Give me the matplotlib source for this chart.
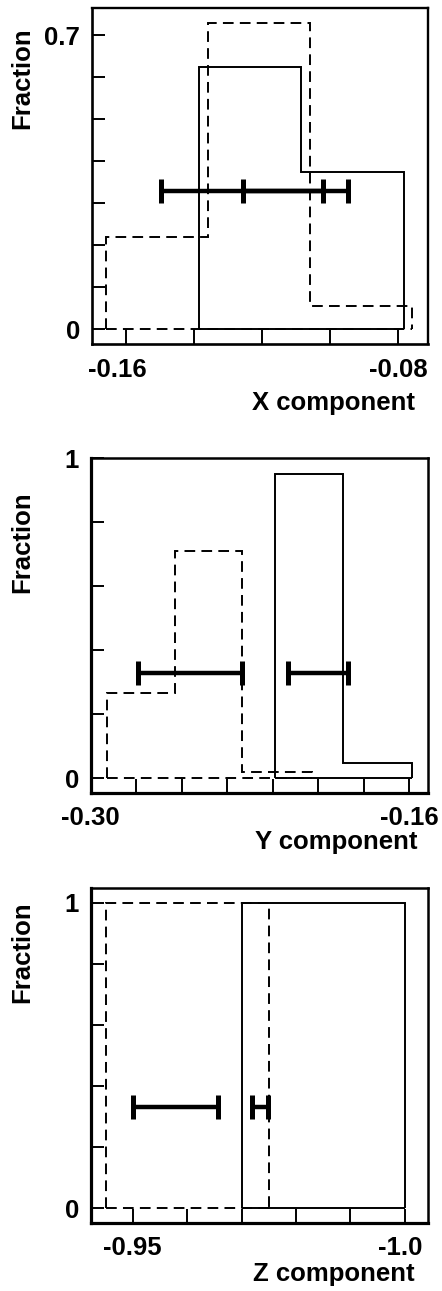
import matplotlib
matplotlib.use("Agg")
import matplotlib.pyplot as plt
from matplotlib.transforms import ScaledTranslation

plt.rcParams['font.family'] = ['Liberation Sans', 'DejaVu Sans']
plt.rcParams['font.weight'] = 'bold'
plt.rcParams['axes.labelweight'] = 'bold'
plt.rcParams['font.size'] = 18.5

# X component
x_edges_solid = [-0.1385, -0.1085, -0.0784]
x_frac_solid = [0.625, 0.375]
x_edges_dashed = [-0.1657, -0.1358, -0.1059, -0.0758]
x_frac_dashed = [0.218, 0.728, 0.055]
x_bars = [(-0.1497, -0.1022), (-0.1255, -0.0948)]
x_bar_y = 0.329
x_xticks = [-0.16, -0.14, -0.12, -0.10, -0.08]
x_xticklabels = ['-0.16', '', '', '', '-0.08']
x_yticks = [0, 0.1, 0.2, 0.3, 0.4, 0.5, 0.6, 0.7]
x_yticklabels = ['0', '', '', '', '', '', '', '0.7']

# Y component
y_edges_solid = [-0.2190, -0.1890, -0.1587]
y_frac_solid = [0.95, 0.049]
y_edges_dashed = [-0.2930, -0.2630, -0.2333, -0.2029]
y_frac_dashed = [0.268, 0.711, 0.019]
y_bars = [(-0.2794, -0.2333), (-0.2132, -0.1871)]
y_bar_y = 0.329
y_xticks = [-0.30, -0.28, -0.26, -0.24, -0.22, -0.20, -0.18, -0.16]
y_xticklabels = ['-0.30', '', '', '', '', '', '', '-0.16']
y_yticks = [0, 0.2, 0.4, 0.6, 0.8, 1.0]
y_yticklabels = ['0', '', '', '', '', '1']

# Z component
z_edges_solid = [-0.9701, -1.0001]
z_frac_solid = [1.0]
z_edges_dashed = [-0.9452, -0.9751]
z_frac_dashed = [1.0]
z_bars = [(-0.9500, -0.9657), (-0.9720, -0.9748)]
z_bar_y = 0.330
z_xticks = [-0.95, -0.96, -0.97, -0.98, -0.99, -1.00]
z_xticklabels = ['-0.95', '', '', '', '', '-1.0']
z_yticks = [0, 0.2, 0.4, 0.6, 0.8, 1.0]
z_yticklabels = ['0', '', '', '', '', '1']

W, H = 442, 1291
fig = plt.figure(figsize=(W / 100, H / 100), dpi=100)
dash = (0, (5.5, 3.2))


def add_axes_px(left, top, right, bottom):
    return fig.add_axes([left / W, 1 - bottom / H, (right - left) / W, (bottom - top) / H])


def draw_panel(ax, edges_s, frac_s, edges_d, frac_d, bars, bar_y,
               xticks, xticklabels, yticks, yticklabels, xlim, ylim,
               xlabel, xlab_pos, ylab_pos, spine_w, xtick_len, nudge=None):
    ax.stairs(frac_d, edges_d, baseline=0, color='k', lw=1.4, linestyle=dash)
    ax.hlines(0, min(edges_d), max(edges_d), color='k', lw=1.4, linestyle=dash)
    ax.stairs(frac_s, edges_s, baseline=0, color='k', lw=1.4)
    ax.hlines(0, min(edges_s), max(edges_s), color='k', lw=1.4)
    for lo, hi in bars:
        ax.errorbar((lo + hi) / 2, bar_y, xerr=abs(hi - lo) / 2, fmt='none',
                    ecolor='k', elinewidth=3.2, capsize=8.3, capthick=3.6)
    ax.set_xlim(*xlim)
    ax.set_ylim(*ylim)
    ax.set_xticks(xticks)
    ax.set_xticklabels(xticklabels)
    ax.set_yticks(yticks)
    ax.set_yticklabels(yticklabels)
    ax.tick_params(axis='x', direction='in', length=xtick_len, width=1.4, pad=9.8)
    ax.tick_params(axis='y', direction='in', length=9.6, width=1.4, pad=8.4)
    for side in ['top', 'right']:
        ax.spines[side].set_linewidth(spine_w[0])
    for side in ['left', 'bottom']:
        ax.spines[side].set_linewidth(spine_w[1])
    ax.set_xlabel(xlabel, loc='right')
    ax.xaxis.set_label_coords(*xlab_pos)
    ax.xaxis.label.set_va('center')
    ax.set_ylabel('Fraction')
    ax.yaxis.set_label_coords(*ylab_pos)
    ax.yaxis.label.set_va('center')
    if nudge:
        for i, dx in nudge.items():
            lab = ax.get_xticklabels()[i]
            lab.set_transform(lab.get_transform() + ScaledTranslation(dx / 100, 0, fig.dpi_scale_trans))


ax1 = add_axes_px(91.7, 8.3, 427.7, 344.3)
draw_panel(ax1, x_edges_solid, x_frac_solid, x_edges_dashed, x_frac_dashed, x_bars, x_bar_y,
           x_xticks, x_xticklabels, x_yticks, x_yticklabels,
           (-0.170, -0.0713), (-0.0364, 0.7636), 'X component',
           (0.962, -0.1747), (-0.2074, 0.7926), (1.7, 1.9), 10.8, nudge={0: -8})

ax2 = add_axes_px(90.7, 458.3, 427.7, 792.7)
draw_panel(ax2, y_edges_solid, y_frac_solid, y_edges_dashed, y_frac_dashed, y_bars, y_bar_y,
           y_xticks, y_xticklabels, y_yticks, y_yticklabels,
           (-0.30, -0.1519), (-0.0447, 1.0), 'Y component',
           (0.971, -0.1465), (-0.2039, 0.750), (1.8, 2.3), 10.3)

ax3 = add_axes_px(90.7, 888.3, 427.7, 1222.7)
draw_panel(ax3, z_edges_solid, z_frac_solid, z_edges_dashed, z_frac_dashed, z_bars, z_bar_y,
           z_xticks, z_xticklabels, z_yticks, z_yticklabels,
           (-0.9423, -1.0042), (-0.0469, 1.047), 'Z component',
           (0.962, -0.1534), (-0.2039, 0.8095), (1.8, 2.3), 10.3, nudge={5: -5})

fig.savefig('out.png', dpi=100)
